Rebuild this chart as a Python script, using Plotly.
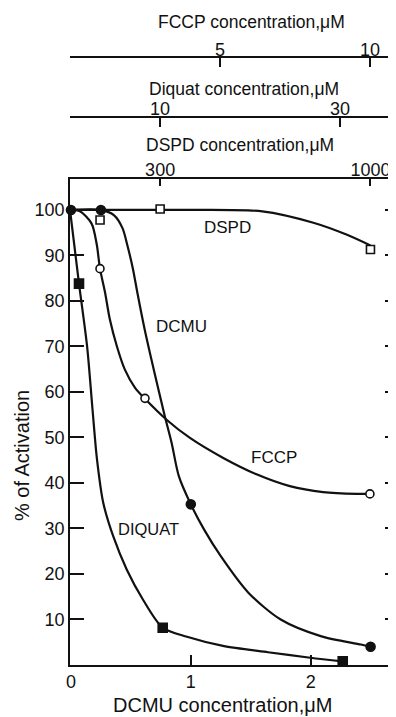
import plotly.graph_objects as go

# ---------------- data ----------------
# measured points
dcmu_x = [0, 0.25, 1.0, 2.5]
dcmu_y = [100, 100, 35.3, 4.0]
fccp_x = [1.0, 2.5, 10.0]
fccp_y = [87.1, 58.6, 37.6]
diquat_x = [1.0, 10.3, 30.3]
diquat_y = [83.8, 8.2, 0.8]
dspd_x = [100, 300, 1000]
dspd_y = [97.8, 100.2, 91.3]

# hand-drawn curves
dcmu_curve_x = [0, 0.25, 0.36, 0.43, 0.47, 0.515, 0.557, 0.612, 0.668, 0.724, 0.78,
                0.84, 0.9, 1.0, 1.11, 1.25, 1.48, 1.75, 2.09, 2.42, 2.5]
dcmu_curve_y = [100, 100, 98.8, 96.0, 92.3, 87.3, 81.4, 74.1, 67.5, 61.2, 55.0,
                48.8, 41.5, 35.3, 29.8, 23.9, 15.9, 10.0, 6.3, 4.5, 4.0]
fccp_curve_x = [0, 0.33, 0.72, 0.89, 1.0, 1.17, 1.33, 1.56, 1.83, 2.17, 2.5,
                3.22, 4.0, 5.11, 6.22, 7.33, 8.44, 9.56, 10.0]
fccp_curve_y = [100, 99.7, 97.0, 92.5, 87.1, 81.8, 75.9, 70.1, 64.9, 60.9, 58.5,
                53.9, 49.9, 45.5, 41.9, 39.3, 38.0, 37.6, 37.6]
diquat_curve_x = [0, 1.0, 1.9, 2.5, 3.0, 3.7, 4.8, 6.3, 8.1, 10.3, 13, 17, 22, 26.7, 30.3]
diquat_curve_y = [100, 83.8, 70, 56.2, 45.2, 35.6, 28.3, 21, 14.4, 8.2, 6.2, 4.2, 2.8, 1.6, 0.8]
dspd_curve_x = [0, 100, 300, 370, 640, 810, 920, 1000]
dspd_curve_y = [100, 100, 100, 100, 99.7, 97.2, 94.6, 92.2]

y_ticks = [10, 20, 30, 40, 50, 60, 70, 80, 90, 100]
dcmu_ticks = [0, 1, 2]
fccp_ticks = [0, 5, 10]
fccp_ticktext = ["", "5", "10"]
diquat_ticks = [0, 10, 30]
diquat_ticktext = ["", "10", "30"]
dspd_ticks = [300, 1000]
dspd_ticktext = ["300", "1000"]

# ---------------- layout geometry ----------------
# the page body keeps the browser's default 8 px margin, so the figure is
# sized to fill the 396x717 window from that offset
OFF = 8
W, H = 396 - OFF, 717 - OFF
PLOT_LEFT, PLOT_BOTTOM = 70, 665          # window pixels
L = PLOT_LEFT - OFF
B = H - (PLOT_BOTTOM - OFF)
T, R = 0, 0
PW, PH = W - L - R, H - T - B


def px(x):
    return (x - PLOT_LEFT) / PW


def py(y):
    return (PLOT_BOTTOM - y) / PH


INK = "#111111"
FONT = "Liberation Sans, Arial, sans-serif"
LW = 2.2

fig = go.Figure()


def curve(x, y, xa):
    fig.add_trace(go.Scatter(x=x, y=y, xaxis=xa, yaxis="y", mode="lines",
                             line=dict(color=INK, width=LW, shape="spline", smoothing=0.8),
                             hoverinfo="skip", showlegend=False))


def points(x, y, xa, symbol, fill, size):
    fig.add_trace(go.Scatter(x=x, y=y, xaxis=xa, yaxis="y", mode="markers",
                             marker=dict(symbol=symbol, size=size, color=fill,
                                         line=dict(color=INK, width=1.6)),
                             showlegend=False, cliponaxis=False))


curve(dspd_curve_x, dspd_curve_y, "x4")
curve(fccp_curve_x, fccp_curve_y, "x2")
curve(diquat_curve_x, diquat_curve_y, "x3")
curve(dcmu_curve_x, dcmu_curve_y, "x")

points(dspd_x, dspd_y, "x4", "square", "white", 8)
points(fccp_x, fccp_y, "x2", "circle", "white", 8)
points(diquat_x, diquat_y, "x3", "square", INK, 9)
points(dcmu_x, dcmu_y, "x", "circle", INK, 9)

# invisible trace for the right-hand tick axis
fig.add_trace(go.Scatter(x=[0], y=[0], xaxis="x", yaxis="y2", mode="markers",
                         marker=dict(opacity=0), hoverinfo="skip", showlegend=False))

y_dom = py(179)
y_range = [0, 106.8]

axis_common = dict(showgrid=False, zeroline=False, showline=True, linecolor=INK,
                   linewidth=1.6, tickcolor=INK, tickwidth=1.5, ticks="inside",
                   tickfont=dict(family=FONT, size=18, color=INK))

fig.update_layout(
    width=W, height=H,
    margin=dict(l=L, r=R, t=T, b=B, pad=0),
    paper_bgcolor="white", plot_bgcolor="white",
    showlegend=False,
    xaxis=dict(axis_common, domain=[0, 1], anchor="y", range=[-0.008, 2.712],
               tickvals=dcmu_ticks, ticklen=10),
    yaxis=dict(axis_common, domain=[0, y_dom], anchor="x", range=y_range,
               tickvals=y_ticks, ticklen=14),
    yaxis2=dict(overlaying="y", side="right", anchor="x", range=y_range,
                tickvals=y_ticks, ticks="inside", ticklen=11, tickwidth=1.5,
                tickcolor=INK, showticklabels=False, showline=False,
                showgrid=False, zeroline=False),
    xaxis2=dict(axis_common, overlaying="x", side="top", anchor="free",
                position=py(57), range=[0, 10.87], tickvals=fccp_ticks,
                ticktext=fccp_ticktext, ticklen=9, ticklabelstandoff=-7),
    xaxis3=dict(axis_common, overlaying="x", side="top", anchor="free",
                position=py(117), range=[0, 36.22], tickvals=diquat_ticks,
                ticktext=diquat_ticktext, ticklen=9, ticklabelstandoff=-6),
    xaxis4=dict(axis_common, overlaying="x", side="top", anchor="y",
                range=[0, 1085], tickvals=dspd_ticks, ticktext=dspd_ticktext,
                ticklen=7, ticklabelstandoff=-6),
)


def label(text, x, y, size=17, angle=0):
    fig.add_annotation(text=text, x=px(x), y=py(y), xref="paper", yref="paper",
                       showarrow=False, xanchor="center", yanchor="middle",
                       textangle=angle, font=dict(family=FONT, size=size, color=INK))


# axis titles
label("FCCP concentration,\u03bcM", 251, 22, 17.5)
label("Diquat concentration,\u03bcM", 244, 89, 17.5)
label("DSPD concentration,\u03bcM", 240, 145, 17.5)
label("DCMU concentration,\u03bcM", 222, 705, 20)
label("% of Activation", 22, 456, 20, -90)

# series labels
label("DSPD", 227, 227, 17)
label("DCMU", 181, 326, 17)
label("FCCP", 274, 457, 17)
label("DIQUAT", 148, 529, 16.5)

fig.write_html("out.html")
